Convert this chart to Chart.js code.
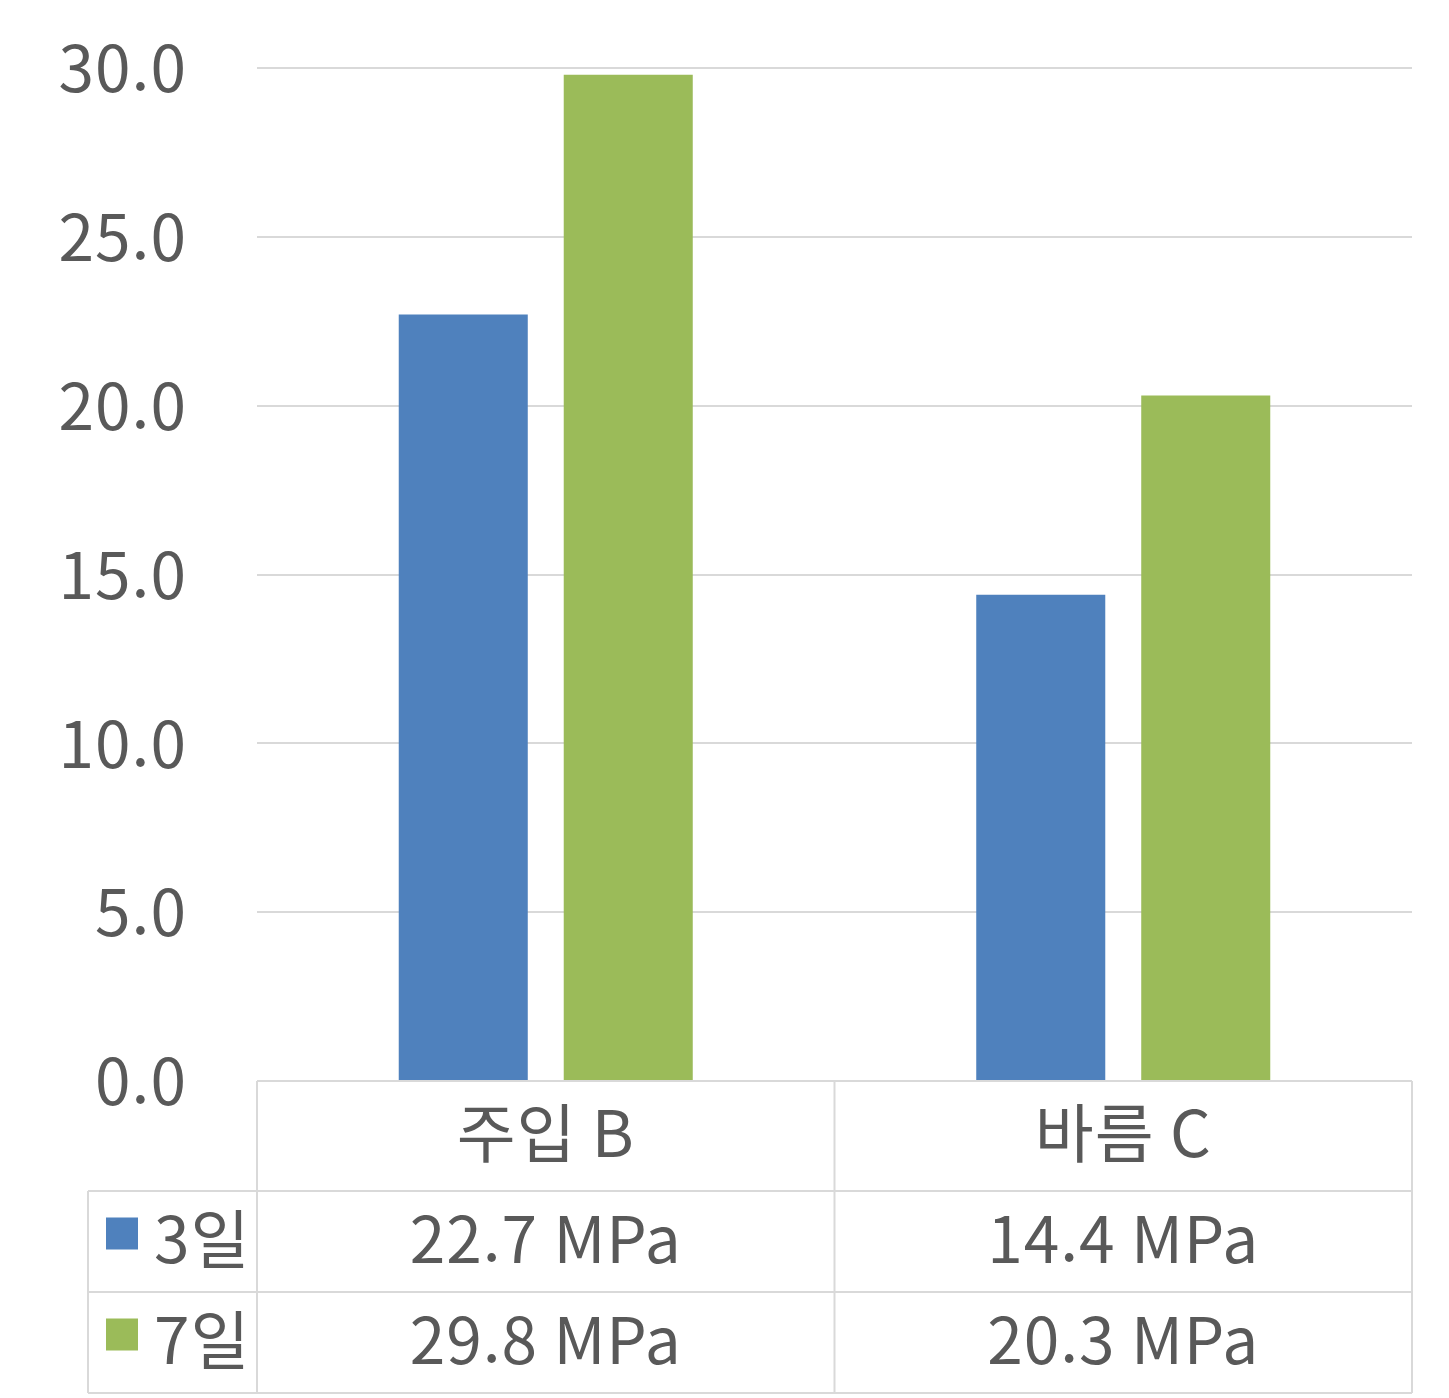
<!DOCTYPE html>
<html lang="ko">
<head>
<meta charset="utf-8">
<title>압축강도 비교</title>
<script src="https://cdn.jsdelivr.net/npm/chart.js@4/dist/chart.umd.min.js"></script>
<style>
  html, body { margin: 0; padding: 0; background: #ffffff; }
  #wrap { width: 1449px; height: 1398px; }
</style>
</head>
<body>
<div id="wrap"><canvas id="c" width="1449" height="1398"></canvas></div>
<script>
// Categories, series and axis ticks
const categories = ['주입 B', '바름 C'];
const seriesNames = ['3일', '7일'];
const day3 = [22.7, 14.4];
const day7 = [29.8, 20.3];
const unit = 'MPa';
const yTicks = [0, 5, 10, 15, 20, 25, 30];

const BLUE = '#4F81BD';
const GREEN = '#9BBB59';
const TEXT = '#595959';
const LINE = '#D9D9D9';
const FONT = "'Noto Sans CJK KR', 'Noto Sans', sans-serif";
const FONT_SIZE = 64;

// Slightly open letter spacing for all canvas text
const spacing = {
  id: 'spacing',
  beforeDraw(chart) { chart.ctx.letterSpacing = '1px'; }
};

// Data table under the plot: header row with category names, then one row per series
const dataTable = {
  id: 'dataTable',
  afterDraw(chart) {
    const ctx = chart.ctx;
    const area = chart.chartArea;
    const xs = chart.scales.x;
    const n = categories.length;
    const catW = (area.right - area.left) / n;
    const top = area.bottom;
    const headerH = 110;
    const rowH = 101;
    const legendLeft = area.left - 169;
    const rowsTop = top + headerH;
    const bottom = rowsTop + rowH * chart.data.datasets.length;

    ctx.save();
    ctx.strokeStyle = LINE;
    ctx.lineWidth = 2;
    ctx.beginPath();
    ctx.moveTo(area.left, top); ctx.lineTo(area.right, top);
    for (let r = 0; r <= chart.data.datasets.length; r++) {
      const y = rowsTop + r * rowH;
      ctx.moveTo(legendLeft, y); ctx.lineTo(area.right, y);
    }
    for (let i = 0; i <= n; i++) {
      const x = area.left + i * catW;
      ctx.moveTo(x, top); ctx.lineTo(x, bottom);
    }
    ctx.moveTo(legendLeft, rowsTop); ctx.lineTo(legendLeft, bottom);
    ctx.stroke();

    ctx.fillStyle = TEXT;
    ctx.font = FONT_SIZE + 'px ' + FONT;
    ctx.textAlign = 'center';
    ctx.textBaseline = 'middle';
    categories.forEach((c, i) => {
      ctx.fillText(c, xs.getPixelForValue(i), top + headerH / 2 - 3);
    });

    chart.data.datasets.forEach((ds, r) => {
      const cy = rowsTop + r * rowH + rowH / 2 - 3;
      // legend key
      ctx.fillStyle = ds.backgroundColor;
      ctx.fillRect(legendLeft + 18, cy - 21, 32, 32);
      ctx.fillStyle = TEXT;
      ctx.textAlign = 'left';
      ctx.fillText(ds.label, legendLeft + 66, cy);
      ctx.textAlign = 'center';
      ds.data.forEach((v, i) => {
        ctx.fillText(v.toFixed(1) + ' ' + unit, xs.getPixelForValue(i), cy);
      });
    });
    ctx.restore();
  }
};

new Chart(document.getElementById('c'), {
  type: 'bar',
  data: {
    labels: categories,
    datasets: [
      { label: seriesNames[0], data: day3, backgroundColor: BLUE },
      { label: seriesNames[1], data: day7, backgroundColor: GREEN }
    ]
  },
  options: {
    responsive: false,
    devicePixelRatio: 1,
    animation: false,
    categoryPercentage: 0.5714,
    barPercentage: 0.782,
    layout: { padding: { left: 0, right: 37, top: 68, bottom: 317 } },
    plugins: {
      legend: { display: false },
      tooltip: { enabled: false }
    },
    scales: {
      x: { display: false },
      y: {
        min: 0,
        max: 30,
        afterFit(scale) {
          scale.width = 257;
          scale.paddingTop = 0;
          scale.paddingBottom = 0;
        },
        afterBuildTicks(scale) { scale.ticks = yTicks.map(v => ({ value: v })); },
        border: { display: false },
        grid: { color: LINE, lineWidth: 2, drawTicks: false },
        ticks: {
          padding: 70,
          color: TEXT,
          font: { family: FONT, size: FONT_SIZE },
          callback: v => Number(v).toFixed(1)
        }
      }
    }
  },
  plugins: [spacing, dataTable]
});
</script>
</body>
</html>
